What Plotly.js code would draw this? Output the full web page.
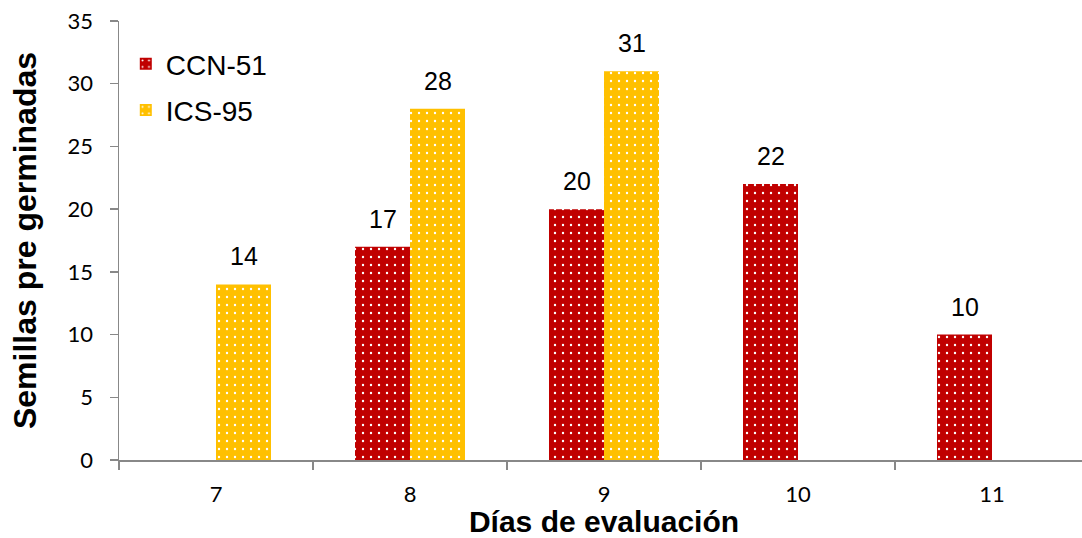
<!DOCTYPE html>
<html>
<head>
<meta charset="utf-8">
<script src="https://cdn.plot.ly/plotly-3.0.1.min.js"></script>
<style>
  html, body { margin: 0; padding: 0; overflow: hidden; background: #fff; }
  #chart { width: 1090px; height: 538px; }
</style>
</head>
<body>
<div id="chart"></div>
<script>
// Days of evaluation and pre-germinated seed counts per clone
const dias = ['7', '8', '9', '10', '11'];
const ccn51 = [null, 17, 20, 22, 10];
const ics95 = [14, 28, 31, null, null];

const dotPattern = (bg) => ({ shape: '.', fgcolor: '#ffffff', bgcolor: bg, size: 8, solidity: 0.07 });

const labelFont = { family: 'Liberation Sans, Arial, sans-serif', size: 25, color: '#000' };
const tickFont = { family: 'Lato, Noto Sans, sans-serif', size: 22, color: '#000' };

const traces = [
  {
    type: 'bar', name: 'CCN-51', x: dias, y: ccn51, legendgroup: 'a',
    marker: { color: '#C00000', pattern: dotPattern('#C00000'), line: { width: 0 } }
  },
  {
    type: 'bar', name: 'ICS-95', x: dias, y: ics95, legendgroup: 'b',
    marker: { color: '#FFC000', pattern: dotPattern('#FFC000'), line: { width: 0 } }
  }
];

// value labels above each bar; the two series sit left/right of the category centre
// (annotation x on a category axis is the category index)
const BAR_HALF = 27.5;
const valueLabels = [];
[[ccn51, -BAR_HALF], [ics95, BAR_HALF]].forEach(([vals, dx]) => {
  vals.forEach((v, i) => {
    if (v == null) return;
    valueLabels.push({
      x: i, y: v, xref: 'x', yref: 'y', text: String(v),
      showarrow: false, xanchor: 'center', yanchor: 'bottom',
      xshift: dx, yshift: 12, font: labelFont
    });
  });
});

const layout = {
  width: 1090, height: 538,
  margin: { l: 119, r: 1, t: 21, b: 78 },
  paper_bgcolor: '#fff', plot_bgcolor: '#fff',
  barmode: 'group', bargap: 0.433, bargroupgap: 0,
  showlegend: true,
  legend: {
    x: 0.007, y: 0.959, xanchor: 'left', yanchor: 'top',
    font: { family: 'Liberation Sans, Arial, sans-serif', size: 28, color: '#000' },
    bgcolor: 'rgba(0,0,0,0)', tracegroupgap: 7, itemwidth: 30
  },
  annotations: valueLabels,
  xaxis: {
    type: 'category', tickson: 'boundaries', range: [-0.5, 4.5],
    ticks: 'outside', ticklen: 8, tickcolor: '#888', tickwidth: 1.5,
    showline: true, linecolor: '#888', linewidth: 1.5,
    showgrid: false, zeroline: false, ticklabelstandoff: 14,
    tickfont: tickFont,
    title: { text: 'Días de evaluación', standoff: 7,
      font: { family: 'Liberation Sans, Arial, sans-serif', size: 30, color: '#000', weight: 'bold' } }
  },
  yaxis: {
    range: [0, 35], dtick: 5,
    ticks: 'outside', ticklen: 8, tickcolor: '#888', tickwidth: 1.5,
    showline: true, linecolor: '#888', linewidth: 1.5,
    showgrid: false, zeroline: false, ticklabelstandoff: 12,
    tickfont: tickFont,
    title: { text: 'Semillas pre germinadas', standoff: 21,
      font: { family: 'Liberation Sans, Arial, sans-serif', size: 32, color: '#000', weight: 'bold' } }
  }
};

Plotly.newPlot('chart', traces, layout, { displayModeBar: false, staticPlot: true });
</script>
</body>
</html>
